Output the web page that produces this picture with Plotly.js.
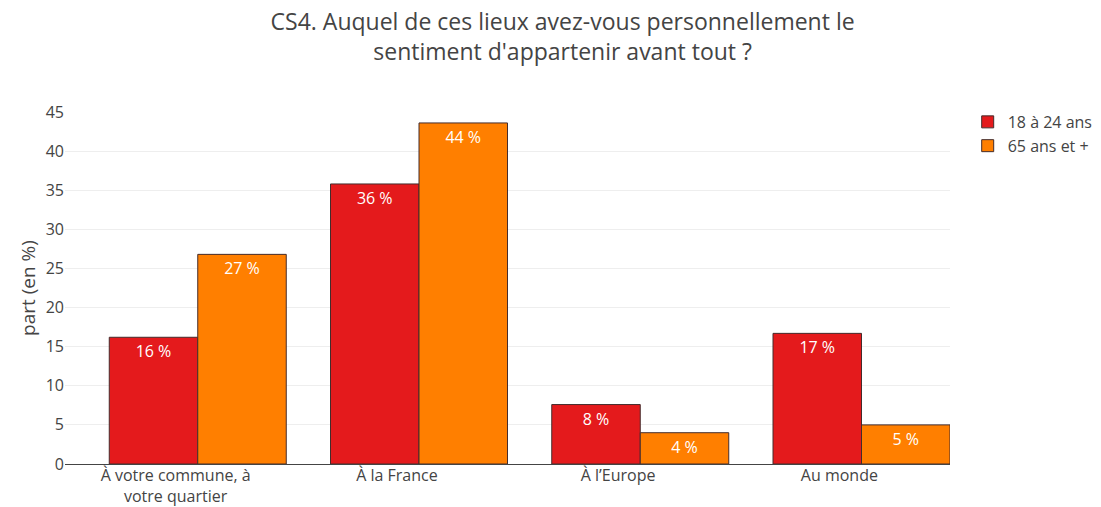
<!DOCTYPE html>
<html>
<head>
<meta charset="utf-8">
<script src="https://cdn.plot.ly/plotly-3.0.1.min.js"></script>
<style>body{margin:0;padding:0;}#chart{width:1101px;height:507px;}</style>
</head>
<body>
<div id="chart"></div>
<script>
const categories = ["À votre commune, à<br>votre quartier", "À la France", "À l’Europe", "Au monde"];
const seriesNames = ["18 à 24 ans", "65 ans et +"];
const values1824 = [16.2, 35.8, 7.6, 16.7];
const values65 = [26.8, 43.6, 4.0, 5.0];
const labels1824 = ["16 %", "36 %", "8 %", "17 %"];
const labels65 = ["27 %", "44 %", "4 %", "5 %"];
const yTicks = [0, 5, 10, 15, 20, 25, 30, 35, 40, 45];

const lineStyle = {color: "rgb(68,44,44)", width: 1};
const traces = [
  {type: "bar", name: seriesNames[0], x: categories, y: values1824, text: labels1824,
   offset: -0.3, width: 0.4,
   textposition: "inside", insidetextanchor: "end", textfont: {color: "#ffffff", size: 16},
   marker: {color: "#e41a1c", line: lineStyle}, hoverinfo: "none"},
  {type: "bar", name: seriesNames[1], x: categories, y: values65, text: labels65,
   offset: 0.1, width: 0.4,
   textposition: "inside", insidetextanchor: "end", textfont: {color: "#ffffff", size: 16},
   marker: {color: "#ff7f00", line: lineStyle}, hoverinfo: "none"}
];
const layout = {
  width: 1101, height: 507,
  font: {family: "Open Sans, sans-serif", color: "#444", size: 16},
  title: {text: "CS4. Auquel de ces lieux avez-vous personnellement le<br>sentiment d'appartenir avant tout ?",
          font: {size: 23, color: "#444"}, x: 0.511, xanchor: "center", y: 0.94, yanchor: "middle"},
  margin: {l: 65, r: 151, t: 112, b: 43, autoexpand: false},
  barmode: "overlay",
  xaxis: {tickfont: {size: 16}, showline: false, range: [-0.5, 3.5], automargin: false},
  yaxis: {range: [0, 45], tickvals: yTicks, ticks: "", ticklabelstandoff: 0,
          gridcolor: "#eee", zeroline: true, zerolinecolor: "#444", zerolinewidth: 1,
          title: {text: "part (en %)", font: {size: 19}, standoff: 5}, tickfont: {size: 16}, automargin: true},
  legend: {x: 1.02, y: 1.02, xanchor: "left", yanchor: "top", font: {size: 16}},
  plot_bgcolor: "#fff", paper_bgcolor: "#fff"
};
Plotly.newPlot("chart", traces, layout, {displayModeBar: false, staticPlot: true});
</script>
</body>
</html>
